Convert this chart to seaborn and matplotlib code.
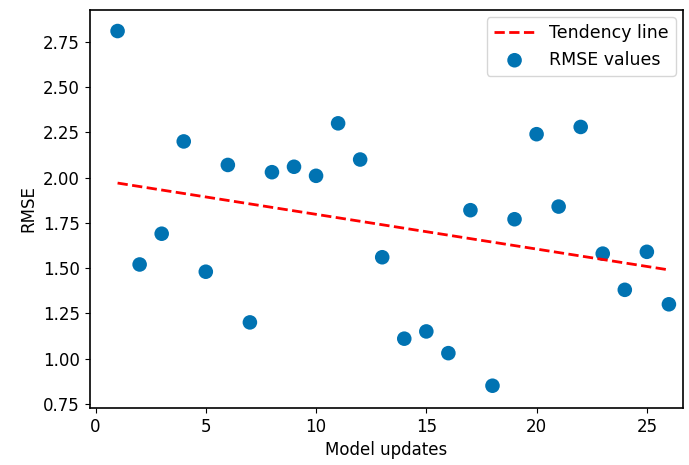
import matplotlib
matplotlib.use("Agg")
import matplotlib.pyplot as plt
import seaborn as sns
import pandas as pd

# 模型更新次数及对应 RMSE
updates = list(range(1, 27))
rmse = [2.81, 1.52, 1.69, 2.20, 1.48, 2.07, 1.20, 2.03, 2.06, 2.01,
        2.30, 2.10, 1.56, 1.11, 1.15, 1.03, 1.82, 0.85, 1.77, 2.24,
        1.84, 2.28, 1.58, 1.38, 1.59, 1.30]

# 趋势线端点
trend_x = [1, 26]
trend_y = [1.97, 1.49]

df = pd.DataFrame({"Model updates": updates, "RMSE": rmse})
df_trend = pd.DataFrame({"Model updates": trend_x, "RMSE": trend_y})

sns.set_style("ticks", {"axes.edgecolor": "black", "text.color": "black",
                        "axes.labelcolor": "black", "xtick.color": "black",
                        "ytick.color": "black"})
plt.rcParams["font.family"] = ["DejaVu Sans"]

fig, ax = plt.subplots(figsize=(6.89, 4.65), dpi=100)

sns.lineplot(data=df_trend, x="Model updates", y="RMSE", color="red",
             linestyle="--", linewidth=2, label="Tendency line", ax=ax, zorder=3)
sns.scatterplot(data=df, x="Model updates", y="RMSE", color="#0173b2",
                s=110, edgecolor="none", label="RMSE values", ax=ax, zorder=2)

ax.set_xlabel("Model updates", fontsize=12)
ax.set_ylabel("RMSE", fontsize=12)
ax.set_xticks([0, 5, 10, 15, 20, 25])
ax.set_yticks([0.75, 1.00, 1.25, 1.50, 1.75, 2.00, 2.25, 2.50, 2.75])
ax.set_yticklabels([f"{v:.2f}" for v in ax.get_yticks()])
ax.set_xlim(-0.27, 26.63)
ax.set_ylim(0.728, 2.925)
ax.tick_params(labelsize=12)
for sp in ax.spines.values():
    sp.set_linewidth(1.2)

ax.legend(loc="upper right", fontsize=12.5, handlelength=2.4,
          borderaxespad=0.4)

fig.subplots_adjust(left=0.13, right=0.991, top=0.978, bottom=0.123)
fig.savefig("out.png", dpi=100)
plt.close(fig)
